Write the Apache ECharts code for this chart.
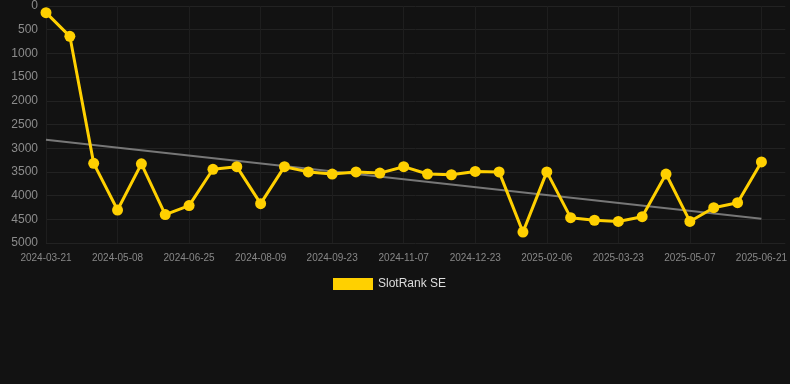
<!DOCTYPE html>
<html>
<head>
<meta charset="utf-8">
<script src="https://cdn.jsdelivr.net/npm/echarts@6/dist/echarts.min.js"></script>
<style>
  html, body { margin: 0; padding: 0; background: #121212; }
  #chart { width: 790px; height: 384px; }
</style>
</head>
<body>
<div id="chart"></div>
<script>
// dates on the x axis (one per point)
var dates = [
    '2024-03-21', '2024-04-06', '2024-04-22', '2024-05-08', '2024-05-24', '2024-06-09',
    '2024-06-25', '2024-07-10', '2024-07-25', '2024-08-09', '2024-08-24', '2024-09-08',
    '2024-09-23', '2024-10-08', '2024-10-23', '2024-11-07', '2024-11-22', '2024-12-08',
    '2024-12-23', '2025-01-07', '2025-01-22', '2025-02-06', '2025-02-21', '2025-03-08',
    '2025-03-23', '2025-04-07', '2025-04-22', '2025-05-07', '2025-05-22', '2025-06-06',
    '2025-06-21'
];

// rank values
var ranks = [
    140, 640, 3320, 4305, 3330, 4400, 4210, 3445, 3390, 4170, 3390, 3500,
    3545, 3500, 3525, 3390, 3545, 3560, 3490, 3500, 4770, 3500, 4465, 4520,
    4545, 4445, 3545, 4545, 4255, 4150, 3290
];

// trend line ends
var trendEnds = [2820, 4490];

var chart = echarts.init(document.getElementById('chart'));

var trendData = [
    [dates[0], trendEnds[0]],
    [dates[dates.length - 1], trendEnds[1]]
];

chart.setOption({
    backgroundColor: '#121212',
    animation: false,
    grid: {
        left: 46,
        right: 0,
        top: 6,
        bottom: 141
    },
    legend: {
        data: ['SlotRank SE'],
        top: 273,
        left: 328,
        itemWidth: 40,
        itemHeight: 12,
        textStyle: { color: '#dddddd', fontSize: 12 },
        icon: 'rect'
    },
    xAxis: {
        type: 'category',
        data: dates,
        boundaryGap: false,
        max: 31.17,
        axisLine: { show: false },
        axisTick: { show: false },
        axisLabel: {
            color: '#888888',
            fontSize: 10,
            interval: 2,
            margin: 10
        },
        splitLine: {
            show: true,
            interval: 2,
            lineStyle: { color: '#1e1e1e' }
        }
    },
    yAxis: {
        type: 'value',
        inverse: true,
        min: 0,
        max: 5000,
        interval: 500,
        axisLine: { show: false },
        axisTick: { show: false },
        axisLabel: {
            color: '#8c8c8c',
            fontSize: 12,
            margin: 8,
            formatter: function (v) { return String(v); }
        },
        splitLine: { lineStyle: { color: '#222222' } }
    },
    series: [
        {
            name: 'trend',
            type: 'line',
            data: trendData,
            symbol: 'none',
            lineStyle: { color: '#777777', width: 2 },
            silent: true,
            z: 1
        },
        {
            name: 'SlotRank SE',
            type: 'line',
            data: ranks,
            symbol: 'circle',
            symbolSize: 11,
            itemStyle: { color: '#ffd000' },
            lineStyle: { color: '#ffd000', width: 3 },
            z: 2
        }
    ]
});
</script>
</body>
</html>
